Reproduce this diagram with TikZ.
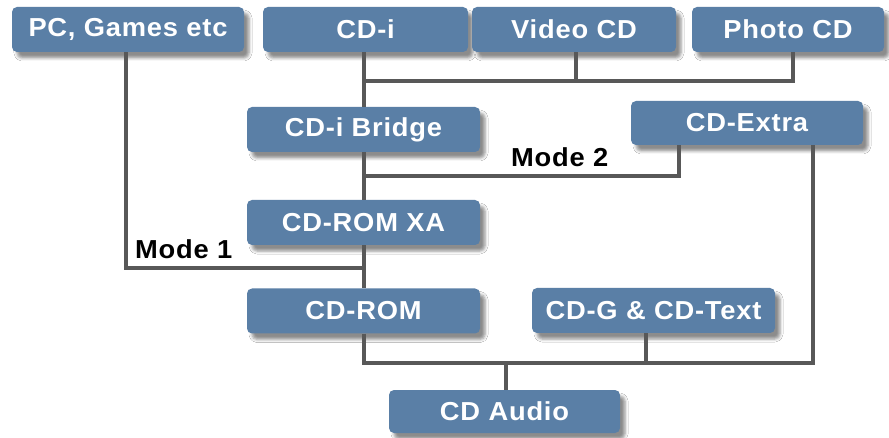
\documentclass[tikz,border=0pt]{standalone}
\usepackage{fontspec}
\newfontfamily\bx{Liberation Sans}[FakeStretch=1.05,LetterSpace=3]
\usetikzlibrary{shadows.blur}
\definecolor{boxblue}{RGB}{90,127,166}
\definecolor{linegray}{RGB}{88,88,88}
\tikzset{
  cdbox/.style={rectangle, rounded corners=5pt, fill=boxblue, text=white,
    font=\bx\bfseries\fontsize{26}{28}\selectfont, inner sep=0pt,
    minimum height=45pt,
    blur shadow={shadow xshift=5pt, shadow yshift=-6pt, shadow blur radius=3pt, shadow opacity=45}},
  conn/.style={draw=linegray, line width=4pt},
  modelbl/.style={font=\bx\bfseries\fontsize{26}{28}\selectfont, text=black, inner sep=0pt, anchor=base west}
}
\begin{document}
\begin{tikzpicture}[x=1pt,y=-1pt]
\useasboundingbox[fill=white] (0,0) rectangle (889,438);
% boxes
\node[cdbox, minimum width=232pt] (pc) at (128,29.5) {PC, Games etc};
\node[cdbox, minimum width=205pt] (cdi) at (365.5,29.5) {CD-i};
\node[cdbox, minimum width=204pt] (video) at (574,29.5) {Video CD};
\node[cdbox, minimum width=192pt] (photo) at (788,29.5) {Photo CD};
\node[cdbox, minimum width=233pt] (bridge) at (363.5,129.5) {CD-i Bridge};
\node[cdbox, minimum width=232pt, minimum height=44pt] (extra) at (747,123) {CD-Extra};
\node[cdbox, minimum width=233pt] (xa) at (363.5,222.5) {CD-ROM XA};
\node[cdbox, minimum width=233pt] (rom) at (363.5,311) {CD-ROM};
\node[cdbox, minimum width=243pt] (cdg) at (653.5,310.5) {CD-G \& CD-Text};
\node[cdbox, minimum width=231pt, minimum height=43pt] (audio) at (504.5,411.5) {CD Audio};
% junction coordinates
\coordinate (jtop) at (364,81);
\coordinate (jm2) at (364,176);
\coordinate (jm1) at (364,268);
\coordinate (jbot) at (364,363);
\coordinate (jright) at (813,363);
\coordinate (jaud) at (506,363);
% connectors
\draw[conn] (cdi.south -| jtop) -- (bridge.north -| jtop);
\draw[conn] (jtop) -| (photo.south -| 793,0);
\draw[conn] (video.south -| 576,0) -- (576,81);
\draw[conn] (bridge.south -| jm2) -- (xa.north -| jm2);
\draw[conn] (jm2) -| (extra.south -| 679,0);
\draw[conn] (xa.south -| jm1) -- (rom.north -| jm1);
\draw[conn] (pc.south -| 126,0) |- (jm1);
\draw[conn] (rom.south -| jbot) -- (jbot) -- (jright) -- (extra.south -| jright);
\draw[conn] (cdg.south -| 646,0) -- (646,363);
\draw[conn] (jaud) -- (audio.north -| jaud);
% labels
\node[modelbl] (mode1) at (135,259) {Mode 1};
\node[modelbl] (mode2) at (511,167) {Mode 2};
\end{tikzpicture}
\end{document}
